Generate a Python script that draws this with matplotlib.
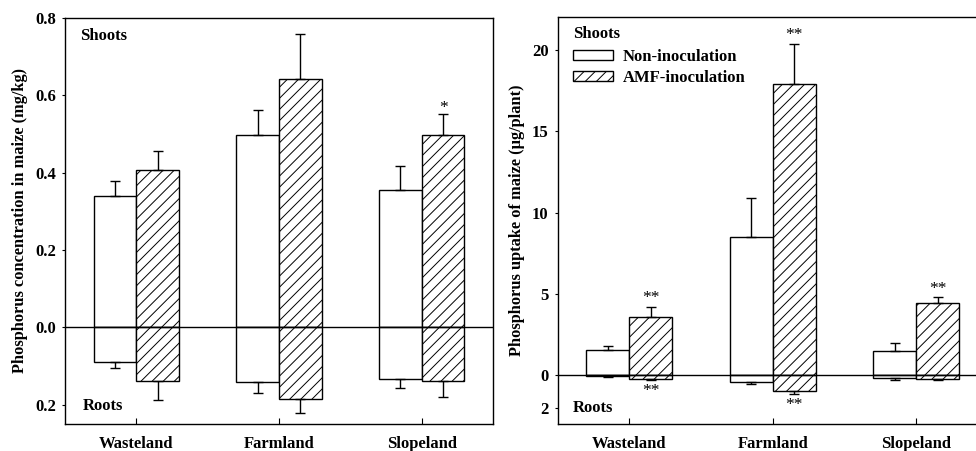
import matplotlib
matplotlib.use('Agg')
import matplotlib.pyplot as plt
import numpy as np

plt.rcParams['font.family'] = ['Liberation Serif', 'DejaVu Serif']
plt.rcParams['font.weight'] = 'bold'
plt.rcParams['axes.labelweight'] = 'bold'
plt.rcParams['hatch.linewidth'] = 0.7

sites = ['Wasteland', 'Farmland', 'Slopeland']

# phosphorus concentration (mg/kg)
conc_shoot_non = [0.339, 0.498, 0.354]
conc_shoot_non_err = [0.039, 0.064, 0.064]
conc_shoot_amf = [0.407, 0.641, 0.498]
conc_shoot_amf_err = [0.048, 0.117, 0.054]
conc_root_non = [0.090, 0.142, 0.133]
conc_root_non_err = [0.015, 0.028, 0.024]
conc_root_amf = [0.138, 0.185, 0.138]
conc_root_amf_err = [0.049, 0.037, 0.041]
conc_stars_shoot = ['', '', '*']
conc_stars_root = ['', '', '']

# phosphorus uptake (ug/plant)
up_shoot_non = [1.54, 8.48, 1.49]
up_shoot_non_err = [0.28, 2.41, 0.51]
up_shoot_amf = [3.56, 17.89, 4.42]
up_shoot_amf_err = [0.65, 2.50, 0.37]
up_root_non = [0.08, 0.39, 0.20]
up_root_non_err = [0.03, 0.14, 0.07]
up_root_amf = [0.25, 0.96, 0.25]
up_root_amf_err = [0.05, 0.17, 0.06]
up_stars_shoot = ['**', '**', '**']
up_stars_root = ['**', '**', '']

fig = plt.figure(figsize=(9.76, 4.51), dpi=100)
ax1 = fig.add_axes([0.0666, 0.0599, 0.4385, 0.9002])
ax2 = fig.add_axes([0.5714, 0.0599, 0.4406, 0.9017])

x = np.arange(len(sites))
w = 0.3
fs = 12


def panel(ax, sn, sne, sa, sae, rn, rne, ra, rae, stars_s, stars_r, off):
    sn, sne, sa, sae = map(np.array, (sn, sne, sa, sae))
    rn, rne, ra, rae = map(np.array, (rn, rne, ra, rae))
    z = np.zeros(len(x))
    ax.bar(x - w / 2, sn, w, color='white', edgecolor='black', lw=1.0)
    ax.bar(x + w / 2, sa, w, color='white', edgecolor='black', lw=1.0, hatch='///')
    ax.bar(x - w / 2, -rn, w, color='white', edgecolor='black', lw=1.0)
    ax.bar(x + w / 2, -ra, w, color='white', edgecolor='black', lw=1.0, hatch='///')
    kw = dict(fmt='none', ecolor='black', elinewidth=1.0, capsize=3.3, capthick=1.0)
    ax.errorbar(x - w / 2, sn, yerr=[z, sne], **kw)
    ax.errorbar(x + w / 2, sa, yerr=[z, sae], **kw)
    ax.errorbar(x - w / 2, -rn, yerr=[rne, z], **kw)
    ax.errorbar(x + w / 2, -ra, yerr=[rae, z], **kw)
    for i in range(len(x)):
        if stars_s[i]:
            ax.annotate(stars_s[i], (x[i] + w / 2, sa[i] + sae[i]), xytext=(0, off),
                        textcoords='offset points', ha='center', va='center',
                        fontsize=12.5, fontweight='normal')
        if stars_r[i]:
            ax.annotate(stars_r[i], (x[i] + w / 2, -ra[i] - rae[i]), xytext=(0, -off - 2),
                        textcoords='offset points', ha='center', va='center',
                        fontsize=12.5, fontweight='normal')
    ax.axhline(0, color='black', lw=1.0)
    ax.set_xlim(-0.5, 2.5)
    ax.set_xticks(x)
    ax.set_xticklabels(sites, fontsize=fs)
    ax.tick_params(axis='x', direction='in', length=4, pad=9)
    ax.tick_params(axis='y', direction='out', length=2.5, pad=4, labelsize=fs)
    for s in ax.spines.values():
        s.set_linewidth(1.0)


panel(ax1, conc_shoot_non, conc_shoot_non_err, conc_shoot_amf, conc_shoot_amf_err,
      conc_root_non, conc_root_non_err, conc_root_amf, conc_root_amf_err,
      conc_stars_shoot, conc_stars_root, 4)
ax1.set_ylim(-0.25, 0.8)
ax1.set_yticks([-0.2, 0.0, 0.2, 0.4, 0.6, 0.8])
ax1.set_yticklabels(['0.2', '0.0', '0.2', '0.4', '0.6', '0.8'])
ax1.set_ylabel('Phosphorus concentration in maize (mg/kg)', fontsize=11.8, labelpad=5)
ax1.text(0.035, 0.955, 'Shoots', transform=ax1.transAxes, fontsize=fs, va='center')
ax1.text(0.042, 0.045, 'Roots', transform=ax1.transAxes, fontsize=fs, va='center')

panel(ax2, up_shoot_non, up_shoot_non_err, up_shoot_amf, up_shoot_amf_err,
      up_root_non, up_root_non_err, up_root_amf, up_root_amf_err,
      up_stars_shoot, up_stars_root, 6)
ax2.set_ylim(-3, 22)
ax2.set_yticks([-2, 0, 5, 10, 15, 20])
ax2.set_yticklabels(['2', '0', '5', '10', '15', '20'])
ax2.set_ylabel('Phosphorus uptake of maize (\u03bcg/plant)', fontsize=11.8, labelpad=5)
ax2.text(0.035, 0.958, 'Shoots', transform=ax2.transAxes, fontsize=fs, va='center')
ax2.text(0.035, 0.04, 'Roots', transform=ax2.transAxes, fontsize=fs, va='center')

h1 = ax2.bar([0], [0], 0, color='white', edgecolor='black', lw=1.0)
h2 = ax2.bar([0], [0], 0, color='white', edgecolor='black', lw=1.0, hatch='///')
ax2.legend([h1, h2], ['Non-inoculation', 'AMF-inoculation'], loc='upper left',
           bbox_to_anchor=(573 / 976, 1 - 49 / 451), bbox_transform=fig.transFigure,
           frameon=False, borderpad=0, borderaxespad=0, handlelength=2.4,
           handleheight=0.55, handletextpad=0.6, labelspacing=0.3, fontsize=fs)

fig.savefig('out.png', dpi=100)
